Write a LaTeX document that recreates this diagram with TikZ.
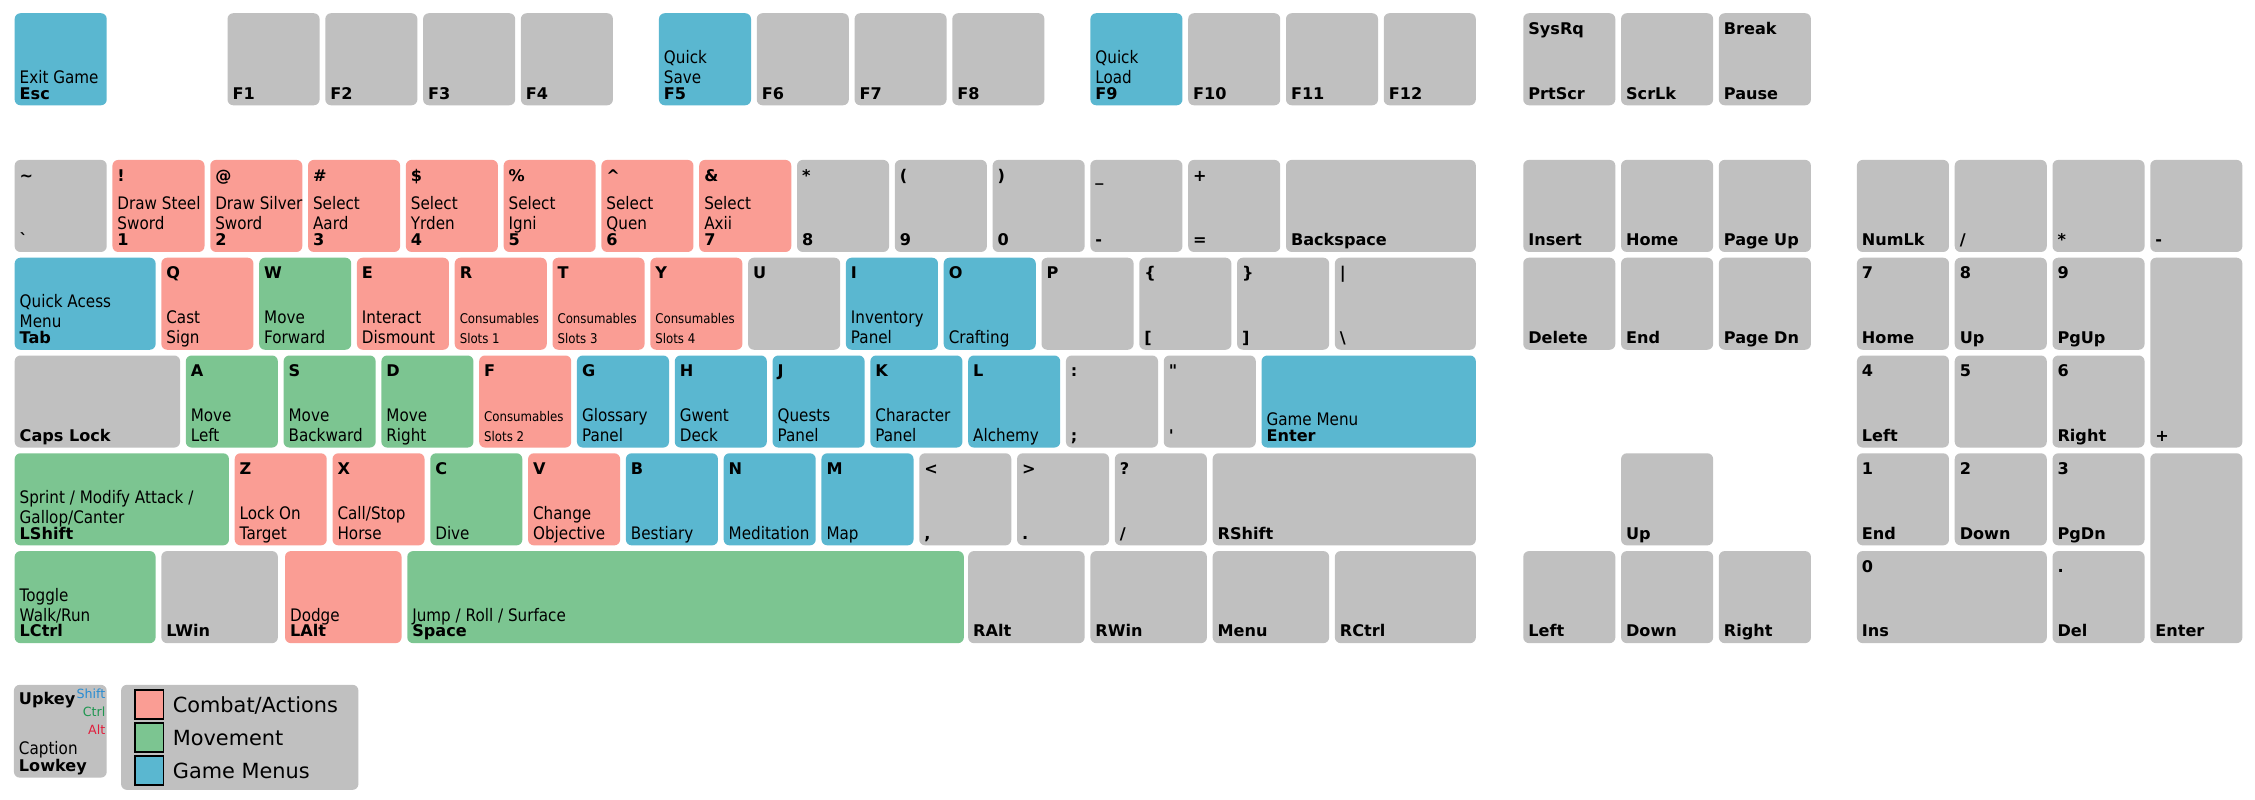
\documentclass[tikz,border=0pt]{standalone}
\usepackage{fontspec}
\newfontfamily\dv{DejaVu Sans}
\newfontfamily\dvc{DejaVu Sans}[FakeStretch=0.88]
\definecolor{kgray}{RGB}{192,192,192}
\definecolor{kred}{RGB}{250,157,148}
\definecolor{kgreen}{RGB}{124,197,145}
\definecolor{kblue}{RGB}{90,183,208}
\definecolor{cshift}{RGB}{40,140,210}
\definecolor{cctrl}{RGB}{30,150,80}
\definecolor{calt}{RGB}{225,30,60}
\newcommand{\cons}[1]{{\fontsize{9.3}{14}\selectfont #1}}
\tikzset{
  keybox/.style={draw=none, rounded corners=4pt, inner sep=0pt, anchor=north west},
  toplbl/.style={anchor=base west, inner sep=0pt, font=\dv\bfseries\fontsize{11.2}{13}\selectfont},
  botlbl/.style={anchor=base west, inner sep=0pt, font=\dv\bfseries\fontsize{11.2}{13}\selectfont},
  caplbl/.style={anchor=base west, inner sep=0pt, align=left, font=\dvc\fontsize{12}{14}\selectfont},
  legtext/.style={anchor=base west, inner sep=0pt, font=\dv\fontsize{14.5}{17}\selectfont},
  legsq/.style={draw=black, line width=1.3pt, anchor=north west, inner sep=0pt, minimum width=20pt, minimum height=20pt},
}
% name, x, y(top), w, h, colour, top label, caption, bottom label
\newcommand{\kk}[9]{%
  \node[keybox,fill=#6,minimum width={68*#4-4},minimum height={68*#5-4}] (#1) at (#2,-#3) {};
  \if\relax\detokenize{#7}\relax\else
    \node[toplbl] (#1-t) at ([xshift=3.5pt,yshift=-15pt]#1.north west) {#7};\fi
  \if\relax\detokenize{#9}\relax
    \if\relax\detokenize{#8}\relax\else
      \node[caplbl] (#1-c) at ([xshift=3.5pt,yshift=4.5pt]#1.south west) {#8};\fi
  \else
    \node[botlbl] (#1-b) at ([xshift=3.5pt,yshift=4.5pt]#1.south west) {#9};
    \if\relax\detokenize{#8}\relax\else
      \node[caplbl] (#1-c) at ([xshift=3.5pt,yshift=15.5pt]#1.south west) {#8};\fi
  \fi}
\begin{document}
\begin{tikzpicture}[x=1pt,y=1pt]
\useasboundingbox[fill=white] (0,0) rectangle (1568,-556);
% function row
\kk{kesc}{10}{9}{1}{1}{kblue}{}{Exit Game}{Esc}
\kk{kf1}{158}{9}{1}{1}{kgray}{}{}{F1}
\kk{kf2}{226}{9}{1}{1}{kgray}{}{}{F2}
\kk{kf3}{294}{9}{1}{1}{kgray}{}{}{F3}
\kk{kf4}{362}{9}{1}{1}{kgray}{}{}{F4}
\kk{kf5}{458}{9}{1}{1}{kblue}{}{Quick\\Save}{F5}
\kk{kf6}{526}{9}{1}{1}{kgray}{}{}{F6}
\kk{kf7}{594}{9}{1}{1}{kgray}{}{}{F7}
\kk{kf8}{662}{9}{1}{1}{kgray}{}{}{F8}
\kk{kf9}{758}{9}{1}{1}{kblue}{}{Quick\\Load}{F9}
\kk{kf10}{826}{9}{1}{1}{kgray}{}{}{F10}
\kk{kf11}{894}{9}{1}{1}{kgray}{}{}{F11}
\kk{kf12}{962}{9}{1}{1}{kgray}{}{}{F12}
\kk{kprt}{1059}{9}{1}{1}{kgray}{SysRq}{}{PrtScr}
\kk{kscr}{1127}{9}{1}{1}{kgray}{}{}{ScrLk}
\kk{kpause}{1195}{9}{1}{1}{kgray}{Break}{}{Pause}
% number row
\kk{ktil}{10}{111}{1}{1}{kgray}{\textasciitilde}{}{\symbol{96}}
\kk{k1}{78}{111}{1}{1}{kred}{!}{Draw Steel\\Sword}{1}
\kk{k2}{146}{111}{1}{1}{kred}{@}{Draw Silver\\Sword}{2}
\kk{k3}{214}{111}{1}{1}{kred}{\#}{Select\\Aard}{3}
\kk{k4}{282}{111}{1}{1}{kred}{\$}{Select\\Yrden}{4}
\kk{k5}{350}{111}{1}{1}{kred}{\%}{Select\\Igni}{5}
\kk{k6}{418}{111}{1}{1}{kred}{\textasciicircum}{Select\\Quen}{6}
\kk{k7}{486}{111}{1}{1}{kred}{\&}{Select\\Axii}{7}
\kk{k8}{554}{111}{1}{1}{kgray}{*}{}{8}
\kk{k9}{622}{111}{1}{1}{kgray}{(}{}{9}
\kk{k0}{690}{111}{1}{1}{kgray}{)}{}{0}
\kk{kmin}{758}{111}{1}{1}{kgray}{\_}{}{-}
\kk{keq}{826}{111}{1}{1}{kgray}{+}{}{=}
\kk{kbs}{894}{111}{2}{1}{kgray}{}{}{Backspace}
% tab row
\kk{ktab}{10}{179}{1.5}{1}{kblue}{}{Quick Acess\\Menu}{Tab}
\kk{kq}{112}{179}{1}{1}{kred}{Q}{Cast\\Sign}{}
\kk{kw}{180}{179}{1}{1}{kgreen}{W}{Move\\Forward}{}
\kk{ke}{248}{179}{1}{1}{kred}{E}{Interact\\Dismount}{}
\kk{kr}{316}{179}{1}{1}{kred}{R}{\cons{Consumables}\\\cons{Slots 1}}{}
\kk{kt}{384}{179}{1}{1}{kred}{T}{\cons{Consumables}\\\cons{Slots 3}}{}
\kk{ky}{452}{179}{1}{1}{kred}{Y}{\cons{Consumables}\\\cons{Slots 4}}{}
\kk{ku}{520}{179}{1}{1}{kgray}{U}{}{}
\kk{ki}{588}{179}{1}{1}{kblue}{I}{Inventory\\Panel}{}
\kk{ko}{656}{179}{1}{1}{kblue}{O}{Crafting}{}
\kk{kp}{724}{179}{1}{1}{kgray}{P}{}{}
\kk{klb}{792}{179}{1}{1}{kgray}{\{}{}{[}
\kk{krb}{860}{179}{1}{1}{kgray}{\}}{}{]}
\kk{kbsl}{928}{179}{1.5}{1}{kgray}{\textbar}{}{\textbackslash}
% caps row
\kk{kcaps}{10}{247}{1.75}{1}{kgray}{}{}{Caps Lock}
\kk{ka}{129}{247}{1}{1}{kgreen}{A}{Move\\Left}{}
\kk{ks}{197}{247}{1}{1}{kgreen}{S}{Move\\Backward}{}
\kk{kd}{265}{247}{1}{1}{kgreen}{D}{Move\\Right}{}
\kk{kf}{333}{247}{1}{1}{kred}{F}{\cons{Consumables}\\\cons{Slots 2}}{}
\kk{kg}{401}{247}{1}{1}{kblue}{G}{Glossary\\Panel}{}
\kk{kh}{469}{247}{1}{1}{kblue}{H}{Gwent\\Deck}{}
\kk{kj}{537}{247}{1}{1}{kblue}{J}{Quests\\Panel}{}
\kk{kk}{605}{247}{1}{1}{kblue}{K}{Character\\Panel}{}
\kk{kl}{673}{247}{1}{1}{kblue}{L}{Alchemy}{}
\kk{ksemi}{741}{247}{1}{1}{kgray}{:}{}{;}
\kk{kquo}{809}{247}{1}{1}{kgray}{\symbol{34}}{}{\symbol{39}}
\kk{kent}{877}{247}{2.25}{1}{kblue}{}{Game Menu}{Enter}
% shift row
\kk{klsh}{10}{315}{2.25}{1}{kgreen}{}{Sprint / Modify Attack /\\Gallop/Canter}{LShift}
\kk{kz}{163}{315}{1}{1}{kred}{Z}{Lock On\\Target}{}
\kk{kx}{231}{315}{1}{1}{kred}{X}{Call/Stop\\Horse}{}
\kk{kc}{299}{315}{1}{1}{kgreen}{C}{Dive}{}
\kk{kv}{367}{315}{1}{1}{kred}{V}{Change\\Objective}{}
\kk{kb}{435}{315}{1}{1}{kblue}{B}{Bestiary}{}
\kk{kn}{503}{315}{1}{1}{kblue}{N}{Meditation}{}
\kk{km}{571}{315}{1}{1}{kblue}{M}{Map}{}
\kk{kcom}{639}{315}{1}{1}{kgray}{<}{}{,}
\kk{kdot}{707}{315}{1}{1}{kgray}{>}{}{.}
\kk{ksl}{775}{315}{1}{1}{kgray}{?}{}{/}
\kk{krsh}{843}{315}{2.75}{1}{kgray}{}{}{RShift}
% bottom row
\kk{klct}{10}{383}{1.5}{1}{kgreen}{}{Toggle\\Walk/Run}{LCtrl}
\kk{klwin}{112}{383}{1.25}{1}{kgray}{}{}{LWin}
\kk{klalt}{198}{383}{1.25}{1}{kred}{}{Dodge}{LAlt}
\kk{kspc}{283}{383}{5.75}{1}{kgreen}{}{Jump / Roll / Surface}{Space}
\kk{kralt}{673}{383}{1.25}{1}{kgray}{}{}{RAlt}
\kk{krwin}{758}{383}{1.25}{1}{kgray}{}{}{RWin}
\kk{kmenu}{843}{383}{1.25}{1}{kgray}{}{}{Menu}
\kk{krct}{928}{383}{1.5}{1}{kgray}{}{}{RCtrl}
% navigation
\kk{kins}{1059}{111}{1}{1}{kgray}{}{}{Insert}
\kk{khome}{1127}{111}{1}{1}{kgray}{}{}{Home}
\kk{kpgup}{1195}{111}{1}{1}{kgray}{}{}{Page Up}
\kk{kdel}{1059}{179}{1}{1}{kgray}{}{}{Delete}
\kk{kend}{1127}{179}{1}{1}{kgray}{}{}{End}
\kk{kpgdn}{1195}{179}{1}{1}{kgray}{}{}{Page Dn}
\kk{kup}{1127}{315}{1}{1}{kgray}{}{}{Up}
\kk{kleft}{1059}{383}{1}{1}{kgray}{}{}{Left}
\kk{kdown}{1127}{383}{1}{1}{kgray}{}{}{Down}
\kk{kright}{1195}{383}{1}{1}{kgray}{}{}{Right}
% numpad
\kk{knum}{1291}{111}{1}{1}{kgray}{}{}{NumLk}
\kk{kpdiv}{1359}{111}{1}{1}{kgray}{}{}{/}
\kk{kpmul}{1427}{111}{1}{1}{kgray}{}{}{*}
\kk{kpmin}{1495}{111}{1}{1}{kgray}{}{}{-}
\kk{kp7}{1291}{179}{1}{1}{kgray}{7}{}{Home}
\kk{kp8}{1359}{179}{1}{1}{kgray}{8}{}{Up}
\kk{kp9}{1427}{179}{1}{1}{kgray}{9}{}{PgUp}
\kk{kpplus}{1495}{179}{1}{2}{kgray}{}{}{+}
\kk{kp4}{1291}{247}{1}{1}{kgray}{4}{}{Left}
\kk{kp5}{1359}{247}{1}{1}{kgray}{5}{}{}
\kk{kp6}{1427}{247}{1}{1}{kgray}{6}{}{Right}
\kk{kp1}{1291}{315}{1}{1}{kgray}{1}{}{End}
\kk{kp2}{1359}{315}{1}{1}{kgray}{2}{}{Down}
\kk{kp3}{1427}{315}{1}{1}{kgray}{3}{}{PgDn}
\kk{kpent}{1495}{315}{1}{2}{kgray}{}{}{Enter}
\kk{kp0}{1291}{383}{2}{1}{kgray}{0}{}{Ins}
\kk{kpdot}{1427}{383}{1}{1}{kgray}{.}{}{Del}
% legend key
\node[keybox,fill=kgray,minimum width=64.5pt,minimum height=64.5pt] (leg) at (9.5,-476) {};
\node[toplbl] (leg-up) at ([xshift=3.5pt,yshift=-14pt]leg.north west) {Upkey};
\node[anchor=base east,inner sep=0pt,font=\dv\fontsize{8.8}{10}\selectfont,text=cshift] (leg-sh) at ([xshift=-1pt,yshift=-9.5pt]leg.north east) {Shift};
\node[anchor=base east,inner sep=0pt,font=\dv\fontsize{8.8}{10}\selectfont,text=cctrl] (leg-ct) at ([xshift=-1pt,yshift=-22pt]leg.north east) {Ctrl};
\node[anchor=base east,inner sep=0pt,font=\dv\fontsize{8.8}{10}\selectfont,text=calt] (leg-al) at ([xshift=-1pt,yshift=-34.5pt]leg.north east) {Alt};
\node[caplbl] (leg-cap) at ([xshift=3.5pt,yshift=16pt]leg.south west) {Caption};
\node[botlbl] (leg-low) at ([xshift=3.5pt,yshift=4.5pt]leg.south west) {Lowkey};
% legend box
\node[keybox,fill=kgray,minimum width=165pt,minimum height=73pt] (lgbox) at (84,-476) {};
\node[legsq,fill=kred] (sq1) at (93,-479) {};
\node[legsq,fill=kgreen] (sq2) at (93,-502) {};
\node[legsq,fill=kblue] (sq3) at (93,-525) {};
\node[legtext] (lt1) at (120,-495.5) {Combat/Actions};
\node[legtext] (lt2) at (120,-518.5) {Movement};
\node[legtext] (lt3) at (120,-541.5) {Game Menus};
\end{tikzpicture}
\end{document}
